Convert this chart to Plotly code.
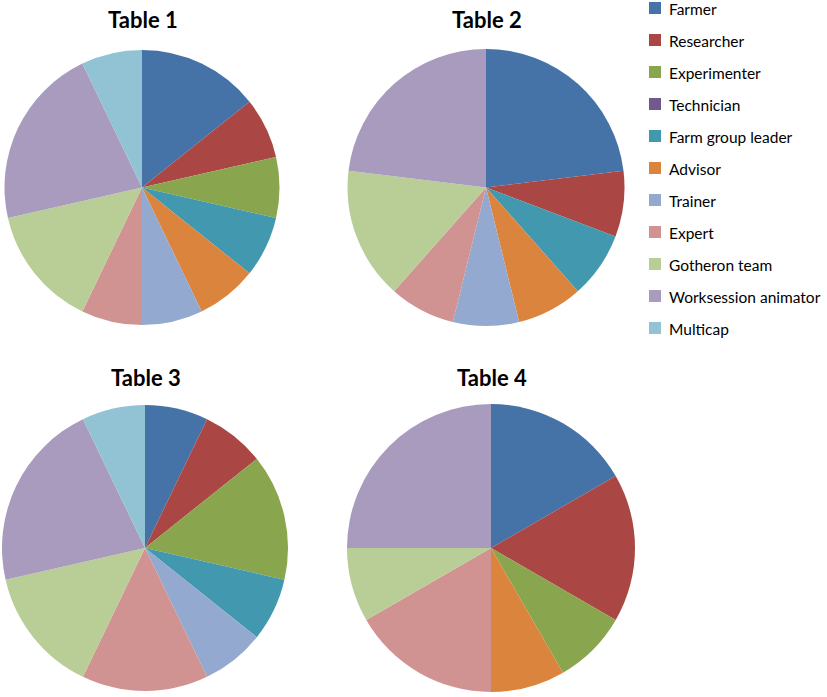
import plotly.graph_objects as go

# Participant categories and their colours
categories = ["Farmer", "Researcher", "Experimenter", "Technician", "Farm group leader",
              "Advisor", "Trainer", "Expert", "Gotheron team", "Worksession animator", "Multicap"]
colors = ["#4572A7", "#AA4643", "#89A54E", "#71588F", "#4198AF",
          "#DB843D", "#93A9CF", "#D19392", "#B9CD96", "#A99BBD", "#92C3D4"]

# Number of participants of each kind at each table
table1 = [2, 1, 1, 0, 1, 1, 1, 1, 2, 3, 1]
table2 = [3, 1, 0, 0, 1, 1, 1, 1, 2, 3, 0]
table3 = [1, 1, 2, 0, 1, 0, 1, 2, 2, 3, 1]
table4 = [2, 2, 1, 0, 0, 1, 0, 2, 1, 3, 0]
titles = ["Table 1", "Table 2", "Table 3", "Table 4"]

W, H = 827, 697

# pie centre (px) and radius (px)
geom = [(142, 187.5, 137.5), (486, 187.5, 138.5), (145, 548, 143), (491, 548, 144)]
title_y = [20, 20, 377, 377]

def px_x(x):
    return x / W

def px_y(y):
    return 1 - y / H

fig = go.Figure()
for vals, (cx, cy, r) in zip([table1, table2, table3, table4], geom):
    fig.add_trace(go.Pie(
        labels=categories, values=vals, sort=False, direction="clockwise", rotation=0,
        marker=dict(colors=colors, line=dict(width=0)),
        textinfo="none", showlegend=False,
        domain=dict(x=[px_x(cx - r), px_x(cx + r)], y=[px_y(cy + r), px_y(cy - r)]),
    ))

annotations = []
for t, (cx, cy, r), ty in zip(titles, geom, title_y):
    annotations.append(dict(text=f"<b>{t}</b>", x=px_x(cx + 1), y=px_y(ty), xref="paper", yref="paper",
                            showarrow=False, xanchor="center", yanchor="middle",
                            font=dict(family="Lato", size=22, color="#000000")))

shapes = []
leg_x0, leg_y0, leg_step, sq = 649, 8, 32, 12
for i, (name, c) in enumerate(zip(categories, colors)):
    yc = leg_y0 + i * leg_step
    shapes.append(dict(type="rect", xref="paper", yref="paper",
                       x0=px_x(leg_x0), x1=px_x(leg_x0 + sq),
                       y0=px_y(yc + sq / 2), y1=px_y(yc - sq / 2),
                       fillcolor=c, line=dict(width=0)))
    annotations.append(dict(text=name, x=px_x(667), y=px_y(yc + 1), xref="paper", yref="paper",
                            showarrow=False, xanchor="left", yanchor="middle",
                            font=dict(family="Lato", size=15.5, color="#000000")))

fig.update_layout(
    width=W, height=H, margin=dict(l=0, r=0, t=0, b=0),
    paper_bgcolor="white", plot_bgcolor="white",
    annotations=annotations, shapes=shapes,
)
fig.write_html("out.html")
